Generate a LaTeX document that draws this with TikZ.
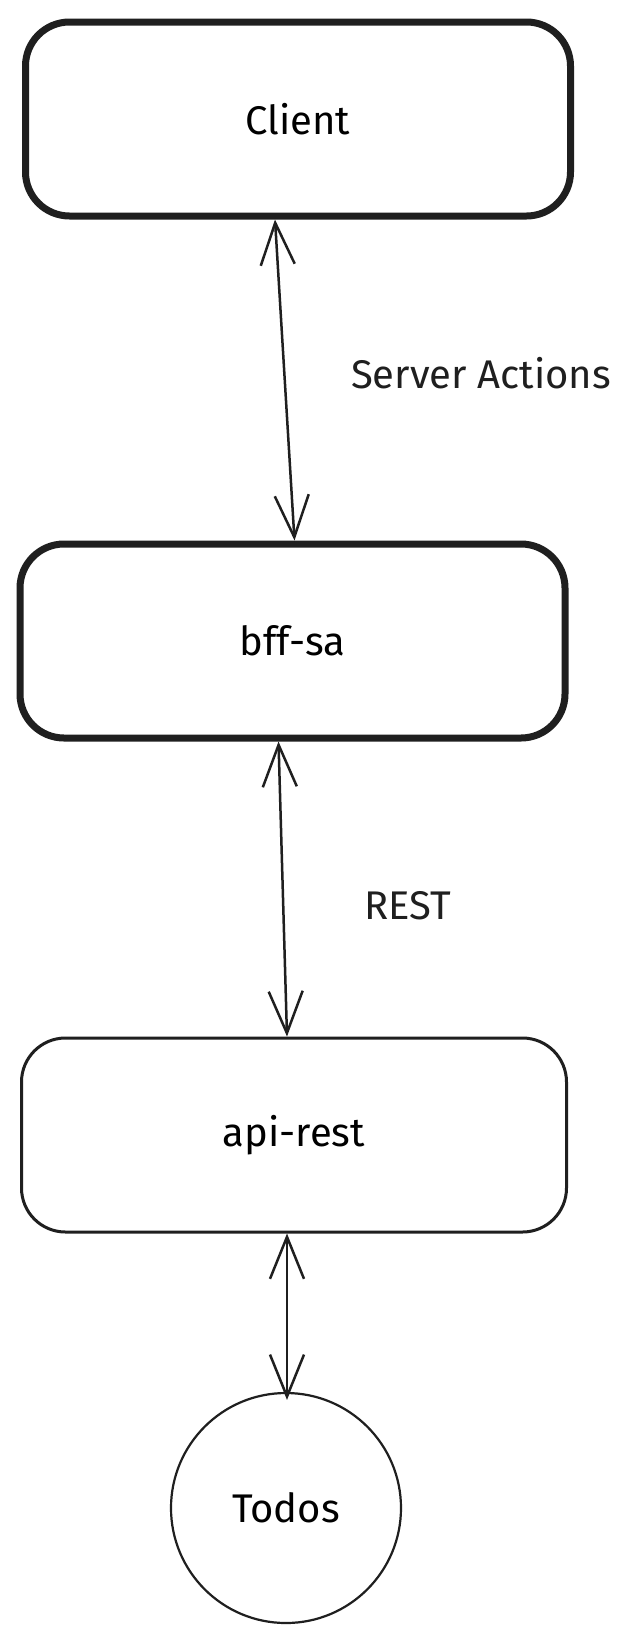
\documentclass[tikz,border=0pt]{standalone}
\usepackage{fontspec}
\setmainfont{Fira Sans}
\usetikzlibrary{arrows.meta,positioning}
\tikzset{
  every picture/.style={line join=round, line cap=round},
  box/.style={draw=black!88, rounded corners=44pt, minimum width=545pt, minimum height=194pt, inner sep=0pt},
  heavybox/.style={box, line width=7pt},
  lightbox/.style={box, line width=3pt},
  store/.style={draw=black!88, circle, line width=2.2pt, minimum size=230pt, inner sep=0pt},
  link/.style={draw=black!88, line width=2.5pt, {Straight Barb[length=42pt,width=34pt]}-{Straight Barb[length=42pt,width=34pt]}},
  lbl/.style={font=\fontsize{40}{48}\selectfont, text=black!88},
}
\begin{document}
\begin{tikzpicture}[x=1pt,y=-1pt,font=\fontsize{40}{48}\selectfont]
\useasboundingbox[fill=white] (0,0) rectangle (644,1647);
\node[heavybox] (client) at (298,119) {Client};
\node[heavybox] (bffsa) at (292.5,641) {bff-sa};
\node[lightbox] (apirest) at (294,1135) {api-rest};
\node[store] (todos) at (286,1508) {Todos};
\draw[link] ([xshift=-23pt]client.south) -- ([xshift=2pt]bffsa.north);
\draw[link] ([xshift=-14pt]bffsa.south) -- ([xshift=-7pt]apirest.north);
\draw[link] ([xshift=-7pt]apirest.south) -- ([xshift=1pt,yshift=-8pt]todos.north);
\node[lbl] (sa) at (481,373) {Server Actions};
\node[lbl] (rest) at (408,906) {REST};
\end{tikzpicture}
\end{document}
